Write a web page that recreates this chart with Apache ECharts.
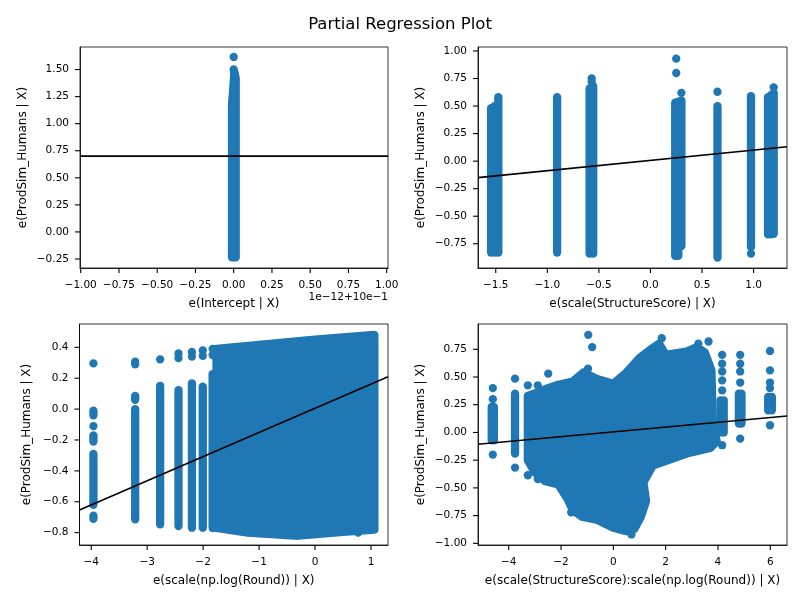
<!DOCTYPE html>
<html>
<head>
<meta charset="utf-8">
<script src="https://cdn.jsdelivr.net/npm/echarts@6/dist/echarts.min.js"></script>
<style>html,body{margin:0;padding:0;background:#fff;}#c{width:800px;height:600px;}</style>
</head>
<body>
<div id="c"></div>
<script>
// ---------- data ----------
// Panel 1: e(Intercept | X)
const p1XTicks = [-1, -0.75, -0.5, -0.25, 0, 0.25, 0.5, 0.75, 1];
const p1YTicks = [-0.25, 0, 0.25, 0.5, 0.75, 1, 1.25, 1.5];
const p1Dense = [[-0.011,-0.235],[0.013,-0.235],[0.013,1.42],[0.004,1.47],[-0.004,1.30],[-0.011,1.18]];
const p1Points = [[0.0,1.50],[0.003,1.48],[0.0,1.616],[0.008,1.45]];
const p1Fit = [[-1.0046,0.70],[1.0085,0.70]];

// Panel 2: e(scale(StructureScore) | X)
const p2XTicks = [-1.5, -1, -0.5, 0, 0.5, 1];
const p2YTicks = [-0.75, -0.5, -0.25, 0, 0.25, 0.5, 0.75, 1];
const p2Columns = [ // [x, yLow, yHigh]
  [-1.545,-0.83,0.48],[-1.51,-0.83,0.50],[-1.475,-0.83,0.58],
  [-0.905,-0.83,0.58],
  [-0.59,-0.84,0.66],[-0.555,-0.84,0.68],
  [0.24,-0.86,0.53],[0.27,-0.86,0.54],[0.30,-0.77,0.55],
  [0.65,-0.875,0.50],
  [0.975,-0.78,0.59],
  [1.14,-0.665,0.58],[1.17,-0.665,0.60],[1.195,-0.66,0.62]
];
const p2Points = [[-0.57,0.72],[-0.57,0.75],[0.25,0.93],[0.25,0.80],[0.30,0.62],[0.65,0.63],[0.975,-0.84],[1.195,0.67]];
const p2Fit = [[-1.672,-0.150],[1.324,0.130]];

// Panel 3: e(scale(np.log(Round)) | X)
const p3XTicks = [-4, -3, -2, -1, 0, 1];
const p3YTicks = [-0.8, -0.6, -0.4, -0.2, 0, 0.2, 0.4];
const p3Columns = [
  [-3.96,-0.04,-0.01],[-3.96,-0.21,-0.17],[-3.96,-0.62,-0.29],[-3.96,-0.71,-0.69],
  [-3.214,0.06,0.086],[-3.214,-0.714,0.0],
  [-2.768,-0.746,0.151],
  [-2.44,-0.757,0.123],
  [-2.20,-0.768,0.167],
  [-2.006,-0.768,0.145],
  [-1.83,-0.77,0.227]
];
const p3Points = [[-3.96,0.296],[-3.96,-0.11],[-3.214,0.307],[-3.214,0.29],[-2.768,0.322],
  [-2.44,0.36],[-2.44,0.33],[-2.20,0.37],[-2.20,0.34],[-2.006,0.38],[-2.006,0.345],
  [-1.83,0.39],[-1.83,0.35],[0.77,-0.80]];
const p3Dense = [[-1.76,-0.77],[-1.76,0.39],[-1.0,0.415],[0.0,0.45],[1.06,0.48],[1.06,-0.78],[0.5,-0.795],[-0.3,-0.82],[-1.2,-0.80]];
const p3Fit = [[-4.209,-0.654],[1.304,0.210]];

// Panel 4: e(scale(StructureScore):scale(np.log(Round)) | X)
const p4XTicks = [-4, -2, 0, 2, 4, 6];
const p4YTicks = [-1, -0.75, -0.5, -0.25, 0, 0.25, 0.5, 0.75];
const p4Dense = [
  [-3.27,-0.25],[-3.27,0.33],[-2.9,0.36],[-2.5,0.40],[-2.1,0.43],[-1.55,0.46],[-1.15,0.54],[-0.6,0.48],
  [0.0,0.44],[0.5,0.54],[1.0,0.67],[1.5,0.76],[1.75,0.80],[2.0,0.70],[2.8,0.73],[3.2,0.77],[3.5,0.72],
  [3.75,0.56],[3.8,0.10],[3.95,-0.08],[3.7,-0.14],[2.8,-0.19],[1.5,-0.30],[1.15,-0.45],[1.25,-0.62],
  [1.05,-0.76],[0.8,-0.87],[0.5,-0.89],[0.0,-0.86],[-0.6,-0.79],[-1.2,-0.76],[-1.55,-0.70],[-1.75,-0.60],
  [-2.1,-0.47],[-2.6,-0.44],[-3.0,-0.36]
];
const p4Columns = [
  [-4.65,-0.07,0.23],[-4.57,-0.07,0.23],
  [-3.76,-0.19,0.35],
  [4.10,0.0,0.29],[4.22,0.0,0.29],
  [4.80,0.08,0.35],[4.90,0.08,0.35],
  [5.92,0.20,0.32],[6.06,0.20,0.32]
];
const p4Points = [
  [-4.61,0.40],[-4.61,0.30],[-4.61,-0.20],
  [-3.76,0.485],[-3.76,-0.317],
  [-3.27,0.425],[-3.27,-0.386],[-2.89,0.425],[-2.89,-0.42],
  [-2.49,0.53],[-0.96,0.88],[-0.81,0.77],[-0.97,0.575],[1.85,0.85],[3.25,0.80],[3.64,0.82],[2.93,0.64],
  [0.69,-0.92],[-1.61,-0.72],
  [4.16,0.70],[4.16,0.62],[4.16,0.55],[4.16,0.47],[4.16,0.38],[4.16,-0.115],
  [4.85,0.70],[4.85,0.62],[4.85,0.55],[4.85,0.45],[4.85,-0.056],
  [5.99,0.735],[5.99,0.56],[5.99,0.45],[5.99,0.40],[5.99,0.065]
];
const p4Fit = [[-5.176,-0.107],[6.64,0.149]];

const xNames = ['e(Intercept | X)', 'e(scale(StructureScore) | X)', 'e(scale(np.log(Round)) | X)', 'e(scale(StructureScore):scale(np.log(Round)) | X)'];
const yName = 'e(ProdSim_Humans | X)';

// ---------- styling / layout ----------
const BLUE = '#1f77b4';
const FONT = 'DejaVu Sans';
const MARK = 8.3;
const TICK = 5;
const grids = [
  {left: 80, top: 47, width: 308, height: 221},
  {left: 478, top: 47, width: 309, height: 221},
  {left: 79.5, top: 324, width: 308.5, height: 221},
  {left: 478, top: 324, width: 309, height: 221}
];
const xr = [[-1.0046, 1.0085], [-1.672, 1.324], [-4.209, 1.304], [-5.176, 6.64]];
const yr = [[-0.333, 1.708], [-0.970, 1.036], [-0.880, 0.551], [-1.015, 0.978]];
const xt = [p1XTicks, p2XTicks, p3XTicks, p4XTicks];
const yt = [p1YTicks, p2YTicks, p3YTicks, p4YTicks];
const xd = [2, 1, 0, 0];
const yd = [2, 2, 1, 2];
const yNameGap = [51, 51, 47, 51];

function fmt(d) { return v => v.toFixed(d).replace('-', '\u2212'); }

const xAxes = [], yAxes = [];
for (let i = 0; i < 4; i++) {
  xAxes.push({
    type: 'value', gridIndex: i, min: xr[i][0], max: xr[i][1], position: 'bottom',
    axisLine: {show: true, onZero: false, lineStyle: {color: '#000', width: 0.8}},
    axisTick: {show: false},
    axisLabel: {customValues: xt[i], formatter: fmt(xd[i]), color: '#000', fontSize: 10.5, fontFamily: FONT, margin: 12},
    splitLine: {show: false},
    name: xNames[i], nameLocation: 'middle', nameGap: 29.5,
    nameTextStyle: {fontSize: 12, color: '#000', fontFamily: FONT}
  });
  yAxes.push({
    type: 'value', gridIndex: i, min: yr[i][0], max: yr[i][1], position: 'left',
    axisLine: {show: true, onZero: false, lineStyle: {color: '#000', width: 0.8}},
    axisTick: {show: false},
    axisLabel: {customValues: yt[i], formatter: fmt(yd[i]), color: '#000', fontSize: 10.5, fontFamily: FONT, margin: 11},
    splitLine: {show: false},
    name: yName, nameLocation: 'middle', nameGap: yNameGap[i], nameRotate: 90,
    nameTextStyle: {fontSize: 12, color: '#000', fontFamily: FONT}
  });
}

function denseSeries(i, poly) {
  return {
    type: 'custom', xAxisIndex: i, yAxisIndex: i, data: poly, encode: {x: 0, y: 1}, silent: true, z: 2,
    renderItem: function (params, api) {
      if (params.dataIndex !== 0) return null;
      const pts = poly.map(p => api.coord(p));
      return {type: 'polygon', shape: {points: pts},
        style: {fill: BLUE, stroke: BLUE, lineWidth: MARK, lineJoin: 'round'}};
    }
  };
}
function columnSeries(i, cols) {
  return {
    type: 'custom', xAxisIndex: i, yAxisIndex: i, data: cols, encode: {x: 0, y: [1, 2]}, silent: true, z: 2,
    renderItem: function (params, api) {
      const a = api.coord([api.value(0), api.value(1)]);
      const b = api.coord([api.value(0), api.value(2)]);
      return {type: 'line', shape: {x1: a[0], y1: a[1], x2: b[0], y2: b[1]},
        style: {stroke: BLUE, lineWidth: MARK, lineCap: 'round'}};
    }
  };
}
function pointSeries(i, pts) {
  return {type: 'scatter', xAxisIndex: i, yAxisIndex: i, data: pts, symbol: 'circle', symbolSize: MARK,
    itemStyle: {color: BLUE, opacity: 1}, silent: true, z: 3};
}
function fitSeries(i, pts) {
  return {type: 'line', xAxisIndex: i, yAxisIndex: i, data: pts, symbol: 'none', silent: true, z: 5,
    lineStyle: {color: '#000', width: 1.6}};
}

const series = [
  denseSeries(0, p1Dense), pointSeries(0, p1Points), fitSeries(0, p1Fit),
  columnSeries(1, p2Columns), pointSeries(1, p2Points), fitSeries(1, p2Fit),
  denseSeries(2, p3Dense), columnSeries(2, p3Columns), pointSeries(2, p3Points), fitSeries(2, p3Fit),
  denseSeries(3, p4Dense), columnSeries(3, p4Columns), pointSeries(3, p4Points), fitSeries(3, p4Fit)
];

const chart = echarts.init(document.getElementById('c'), null, {renderer: 'canvas'});
chart.setOption({
  animation: false,
  backgroundColor: '#fff',
  textStyle: {fontFamily: FONT},
  title: {text: 'Partial Regression Plot', left: 'center', top: 11,
    textStyle: {fontSize: 16.5, fontWeight: 'normal', color: '#000', fontFamily: FONT}},
  grid: grids.map(g => Object.assign({show: true, borderColor: '#000', borderWidth: 0.8, backgroundColor: 'transparent', containLabel: false}, g)),
  xAxis: xAxes,
  yAxis: yAxes,
  series: series
});

// tick marks, positioned through each panel's own scales
const gfx = [];
for (let i = 0; i < 4; i++) {
  xt[i].forEach(v => {
    const p = chart.convertToPixel({gridIndex: i}, [v, yr[i][0]]);
    gfx.push({type: 'line', silent: true, z: 100,
      shape: {x1: p[0], y1: p[1], x2: p[0], y2: p[1] + TICK}, style: {stroke: '#000', lineWidth: 1.1}});
  });
  yt[i].forEach(v => {
    const p = chart.convertToPixel({gridIndex: i}, [xr[i][0], v]);
    gfx.push({type: 'line', silent: true, z: 100,
      shape: {x1: p[0] - TICK, y1: p[1], x2: p[0], y2: p[1]}, style: {stroke: '#000', lineWidth: 1.1}});
  });
}
gfx.push({type: 'text', x: 388, y: 297, silent: true, z: 100,
  style: {text: '1e\u221212+10e\u22121', fontSize: 10.5, fontFamily: FONT, fill: '#000', align: 'right', verticalAlign: 'middle'}});
chart.setOption({graphic: gfx});
</script>
</body>
</html>
